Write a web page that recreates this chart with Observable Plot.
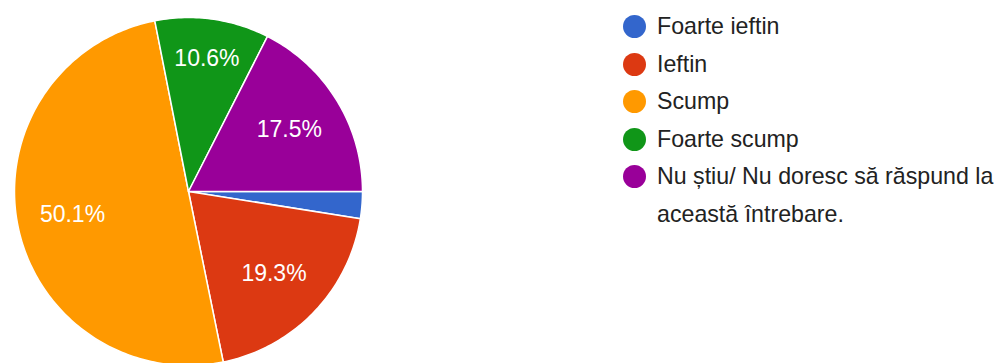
<!DOCTYPE html>
<html>
<head>
<meta charset="utf-8">
<script src="https://cdn.jsdelivr.net/npm/d3@7"></script>
<script src="https://cdn.jsdelivr.net/npm/@observablehq/plot@0.6"></script>
<style>
  html, body { margin: 0; padding: 0; background: #fff; overflow: hidden; }
  #wrap { position: relative; width: 1001px; height: 363px; overflow: hidden; }
  #legend { position: absolute; left: 623px; top: 8px; font-family: "Liberation Sans", Arial, sans-serif; font-size: 23.2px; color: #222; }
  .item { display: flex; align-items: flex-start; line-height: 37.5px; }
  .sw { width: 23px; height: 23px; border-radius: 50%; flex: none; margin-top: 7px; margin-right: 11px; }
  .lab { width: 350px; }
</style>
</head>
<body>
<div id="wrap"><div id="legend"></div></div>
<script>
const categories = ["Foarte ieftin", "Ieftin", "Scump", "Foarte scump", "Nu știu/ Nu doresc să răspund la această întrebare."];
const percents = [2.5, 19.3, 50.1, 10.6, 17.5];
const palette = ["#3366cc", "#dc3912", "#ff9900", "#109618", "#990099"];

const W = 1001, H = 363;
const cx = 188, cy = 191, R = 174;

// Build slices (angle measured clockwise from 3 o'clock)
const total = d3.sum(percents);
let acc = 0;
const slices = categories.map((name, i) => {
  const a0 = acc / total * 2 * Math.PI;
  acc += percents[i];
  const a1 = acc / total * 2 * Math.PI;
  return {name, value: percents[i], a0, a1};
});

const outline = [];
for (const s of slices) {
  outline.push({name: s.name, x: 0, y: 0});
  const n = Math.max(2, Math.ceil((s.a1 - s.a0) / (Math.PI / 180)));
  for (let k = 0; k <= n; ++k) {
    const a = s.a0 + (s.a1 - s.a0) * k / n;
    outline.push({name: s.name, x: Math.cos(a), y: -Math.sin(a)});
  }
  outline.push({name: s.name, x: 0, y: 0});
}

const labels = slices.filter(s => s.value >= 5).map(s => {
  const am = (s.a0 + s.a1) / 2;
  const r = s.value < 15 ? 0.77 : 0.68;
  return {text: s.value.toFixed(1) + "%", x: r * Math.cos(am), y: -r * Math.sin(am)};
});

const chart = Plot.plot({
  width: W, height: H,
  margin: 0,
  x: {domain: [-cx / R, (W - cx) / R], range: [0, W], axis: null},
  y: {domain: [-(H - cy) / R, cy / R], range: [H, 0], axis: null},
  color: {domain: categories, range: palette},
  marks: [
    Plot.line(outline, {x: "x", y: "y", z: "name", fill: "name", stroke: "white", strokeWidth: 1.5, strokeLinejoin: "round"}),
    Plot.text(labels, {x: "x", y: "y", text: "text", fill: "white", fontSize: 23, fontFamily: "Liberation Sans, Arial, sans-serif"})
  ]
});
chart.style.position = "absolute";
chart.style.left = "0px";
chart.style.top = "0px";
document.getElementById("wrap").prepend(chart);

const legend = d3.select("#legend");
categories.forEach((c, i) => {
  const it = legend.append("div").attr("class", "item");
  it.append("div").attr("class", "sw").style("background", palette[i]);
  it.append("div").attr("class", "lab").text(c);
});
</script>
</body>
</html>
